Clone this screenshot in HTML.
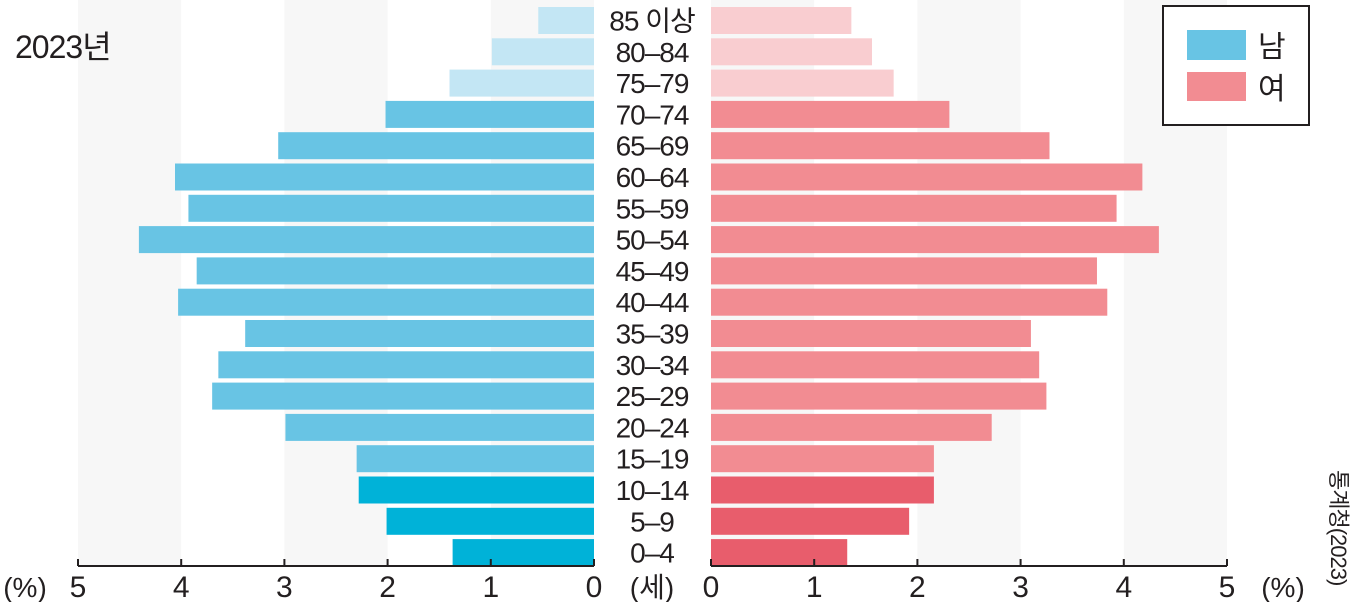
<!DOCTYPE html>
<html><head><meta charset="utf-8">
<style>
html,body{margin:0;padding:0;background:#fff;}
svg text{font-family:"Liberation Sans","Noto Sans CJK KR",sans-serif;fill:#231f20;}
</style></head>
<body>
<svg id="chart" width="1352" height="602" viewBox="0 0 1352 602" xmlns="http://www.w3.org/2000/svg">
<g id="stripes"></g>
<g id="bars"></g>
<g id="labels"></g>
<g id="axes"></g>
<text x="15" y="58" font-size="32" letter-spacing="-1">2023년</text>
<g>
<rect x="1163" y="6" width="146" height="119" fill="#fff" stroke="#231f20" stroke-width="2"/>
<rect x="1187" y="30" width="59" height="30" fill="#68c4e4"/>
<text x="1258" y="57" font-size="30">남</text>
<rect x="1187" y="72" width="59" height="29" fill="#f28c92"/>
<text x="1258" y="99" font-size="30">여</text>
</g>
<text transform="translate(1331,470) rotate(90)" font-size="22" letter-spacing="-1">통계청(2023)</text>
</svg>
<script>
const ageGroups = ["85 이상","80-84","75-79","70-74","65-69","60-64","55-59","50-54","45-49","40-44","35-39","30-34","25-29","20-24","15-19","10-14","5-9","0-4"];
const maleValues = [0.54,0.99,1.40,2.02,3.06,4.06,3.93,4.41,3.85,4.03,3.38,3.64,3.70,2.99,2.30,2.28,2.01,1.37];
const femaleValues = [1.36,1.56,1.77,2.31,3.28,4.18,3.93,4.34,3.74,3.84,3.10,3.18,3.25,2.72,2.16,2.16,1.92,1.32];
const tickValues = [0,1,2,3,4,5];

const NS="http://www.w3.org/2000/svg";
const unit=103.2, leftZero=594, rightZero=711, top0=7, pitch=31.3, barH=27, axisY=566;
const xLeft=v=>leftZero-v*unit;
const xRight=v=>rightZero+v*unit;
const yRow=i=>top0+i*pitch;
function mk(tag,attrs,parent){const e=document.createElementNS(NS,tag);for(const k in attrs)e.setAttribute(k,attrs[k]);parent.appendChild(e);return e;}
const stripes=document.getElementById('stripes'),bars=document.getElementById('bars'),labels=document.getElementById('labels'),axes=document.getElementById('axes');
[0,2,4].forEach(u=>{
  let r=mk('rect',{x:xLeft(u+1),y:0,width:unit,height:axisY,fill:'#f7f7f7'},stripes);
  
  
  let r2=mk('rect',{x:xRight(u),y:0,width:unit,height:axisY,fill:'#f7f7f7'},stripes);
  
  
});
function mColor(i){return i<3?'#c3e6f4':(i>=15?'#00b2d8':'#68c4e4');}
function fColor(i){return i<3?'#f9cdd0':(i>=15?'#e85d6c':'#f28c92');}
ageGroups.forEach((g,i)=>{
  const y=yRow(i);
  let m=mk('rect',{x:xLeft(maleValues[i]),y:y,width:maleValues[i]*unit,height:barH,fill:mColor(i)},bars);
  
  
  let f=mk('rect',{x:rightZero,y:y,width:femaleValues[i]*unit,height:barH,fill:fColor(i)},bars);
  
  
  let t=mk('text',{x:652,y:y+barH/2+10,'font-size':28,'text-anchor':'middle','letter-spacing':'-1'},labels);
  t.textContent=g.replace('-','–');
  
  
});
[[78,594],[711,1227]].forEach(([a,b])=>{
  let l=mk('line',{x1:a,x2:b,y1:axisY,y2:axisY,stroke:'#231f20','stroke-width':2},axes);
  
  
});
tickValues.forEach(v=>{
  [xLeft(v),xRight(v)].forEach(x=>{
    let tk=mk('line',{x1:x,x2:x,y1:axisY-7,y2:axisY,stroke:'#231f20','stroke-width':2},axes);
    
    
    let t=mk('text',{x:x,y:597,'font-size':30,'text-anchor':'middle'},axes);
    t.textContent=v;
    
    
  });
});
[[25,'(%)'],[652,'(세)'],[1283,'(%)']].forEach(([x,s])=>{
  let t=mk('text',{x:x,y:597,'font-size':28,'text-anchor':'middle'},axes);
  t.textContent=s;
  
  
});
</script>
</body></html>
